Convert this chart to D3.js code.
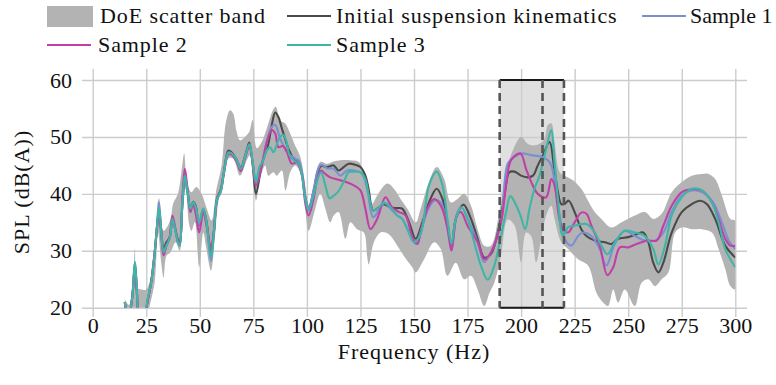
<!DOCTYPE html>
<html><head><meta charset="utf-8">
<script src="https://cdn.jsdelivr.net/npm/d3@7"></script>
<style>
html,body{margin:0;padding:0;background:#fff;}
</style></head>
<body><svg id="chart" width="776" height="385"></svg>
<script>
// ---------- data: [frequency (Hz), SPL (dB(A))] ----------
const xTicks = [0,25,50,75,100,125,150,175,200,225,250,275,300];
const yTicks = [20,30,40,50,60];
const highlightBand = [190,220];
const highlightSplit = 210;

const bandUpper = [[15,21.5],[17,20.5],[18.8,25],[19.7,30.3],[20.8,23.5],[22.7,23.2],[25,23.2],[27.3,25.6],[28.9,30.6],[30.5,38.8],[31,39.2],[32,35],[33.1,33.5],[34.4,34],[36.4,35.6],[37.5,38.2],[39.8,40],[41.4,43.8],[42.7,47.1],[44.1,41.8],[46.1,40.3],[48.4,41.2],[50.8,40],[53.1,37.6],[55.5,35.3],[57.8,40.9],[60.2,45],[62.2,52.6],[64.1,54.7],[65.6,54.1],[67.2,50.9],[68.75,49.4],[71.1,50],[73.1,50.9],[74.7,53],[76.6,48],[78.9,49.1],[81.25,51.5],[84.4,54.9],[85.5,55.3],[87.5,52.9],[89.8,52.4],[92.2,50.6],[94.5,48.5],[96.9,46.5],[99.2,41.5],[100.8,38],[103.1,41.5],[106.25,45.6],[109.4,45.3],[112.5,45.7],[115.6,45.9],[120.3,45.9],[124.2,45.6],[126.6,43.8],[128.9,41.5],[130.5,38.2],[132.8,39.7],[137.5,41.8],[140.6,40.9],[143.75,39.1],[146.9,37.4],[150.8,35],[153.1,37.4],[157,42.1],[160.6,44.7],[164.1,42.6],[167.2,38.5],[170.3,39.1],[173.4,40],[176.6,37.9],[179.7,33.8],[182.8,30.9],[185.9,30.9],[189.8,36.8],[193,43.8],[196.1,47.6],[200,50],[203.1,48.8],[205.5,48.5],[208.6,48.8],[210.9,49.7],[212.5,52.1],[214.1,52.4],[215.6,49.1],[218,43.8],[220.3,43.2],[224.2,42.4],[228.1,40.9],[231.25,38.8],[234.4,36.8],[237.5,35.6],[242.2,34.1],[246.9,35],[253.1,36.2],[257.8,36.8],[261.7,35.6],[265.6,36.5],[270.3,40.3],[275,42.1],[279.7,43.2],[284.4,43.5],[287.5,43.5],[290.6,42.6],[293.75,39.7],[297.7,35.6],[300,35.3]];

const bandLower = [[15,15],[19.7,19],[20.3,17],[25,17],[26.6,20.3],[28.9,24.4],[30.5,33.2],[32,27.9],[33.1,25.3],[34.4,29.1],[36.25,29.7],[38.75,31.5],[40.6,30],[42.2,37.4],[43.4,40.9],[45,34.7],[46.1,33.5],[47.7,35],[49.7,27.1],[51.6,33.2],[53.1,30.3],[55.2,26.5],[57,32.1],[58.6,38.5],[60.9,42.1],[63.3,46.2],[65.6,46.2],[68.75,43.2],[71.9,45.9],[73.4,46.8],[76.25,38.8],[78.1,42.6],[80.5,45],[82,43.2],[84.4,43.8],[85.9,43.2],[88.3,44.1],[90,40.6],[92.2,43.8],[94.5,45],[96.9,43.8],[99.2,37.4],[100.8,33.5],[103.9,37.4],[106.25,40],[108.6,37.4],[110.9,35],[112.5,36.2],[114.8,36.8],[118,32.1],[120.3,35],[123.4,33.8],[126.6,33.2],[128.1,29.1],[128.9,27.6],[131.25,31.5],[134.4,33.2],[136.7,33.2],[139.1,32.6],[142.2,30.9],[145.3,29.1],[149.2,27.1],[150.8,26.2],[154.7,28.5],[159.4,31.5],[162.5,30.3],[165.6,25.6],[169.5,27.9],[173.4,25],[176.6,25.6],[179.7,23.2],[182.8,20.3],[185.2,22.6],[187.5,24.4],[190.6,29.1],[193.75,35.5],[196.9,34.5],[200,28],[202.3,33.2],[204.7,32.6],[207,28],[209.4,32.1],[211.7,36.2],[214.1,37.9],[215.6,35.6],[218.75,31.5],[221.9,30.3],[226.6,28.5],[231.25,27.4],[235.2,22.6],[238.3,20.9],[240.6,20.3],[243,23.2],[245.3,20.9],[248.4,23.2],[253.1,20.3],[256.25,24.4],[259.4,25],[262.5,23.8],[265.6,25],[268.75,26.2],[271.9,33.2],[275,34.1],[279.7,33.8],[284.4,33.8],[289.1,33.2],[292.2,30.3],[295.3,26.8],[297.7,23.8],[300,23.2]];

const initialKinematics = [[15,21],[16.5,17.5],[18.5,22],[19.7,27.5],[20.5,23.5],[21.5,19],[23.5,17.5],[25.8,21.5],[27.3,24.6],[28.9,29.6],[30.5,36],[31,37.2],[32,33.5],[33.1,30.2],[34.4,31.5],[35.9,32.3],[37.2,35.3],[38.75,33.4],[39.8,31.9],[40.6,31.3],[41.9,38.3],[43,43],[44.1,41],[45.6,37.6],[46.9,38.6],[48.1,37.9],[49.7,34.5],[51.6,37.3],[53.1,35.2],[55.2,29.5],[56.6,33.5],[58.1,39.3],[59.7,40.6],[61.3,44],[63.3,47.6],[64.8,47.3],[67.2,46],[69.1,44.6],[71.4,47],[73.1,49],[74.7,45],[76.25,40],[79,45.3],[82,48.8],[83.6,52.1],[85.2,54.3],[86.7,53.5],[88.3,51.5],[89.8,49.7],[91.4,47.9],[93.75,46.2],[96.1,45.7],[97.7,43.5],[99.2,39.4],[100.8,37.4],[103.1,40.3],[105,43.8],[106.6,44.9],[109.4,44.7],[112.5,45],[114.8,44.1],[117.2,44.7],[119.5,45.3],[122.7,45.1],[125,44.7],[127.3,43.2],[128.9,40.6],[130.9,37.1],[133.6,37.6],[135.9,38.2],[139.1,37.6],[142.2,37.5],[144.5,37.4],[147.7,35],[150.8,32.1],[153.9,35],[157,38.5],[160.6,40.9],[163.3,39.1],[165.6,35],[167.5,30.6],[169.5,35.6],[173.1,38.1],[176.6,35.6],[179.7,32.1],[182.8,28.8],[185.9,29.4],[189.8,34.4],[192.2,39.7],[194.5,43.8],[196.9,43.9],[200,43.2],[203.1,42.9],[205.5,43.2],[207.8,45],[210.2,46.8],[213.3,49.1],[215.3,45],[217.2,40.3],[218.75,38.2],[220.3,38.2],[222.2,38.8],[225,36.8],[228.1,33.8],[230.5,32.6],[234.4,31.8],[239.1,31.5],[242.2,31.2],[245.3,32.1],[250,32.4],[253.9,32.9],[257,33.2],[259.4,31.5],[261.7,27.9],[264.1,26.2],[266.4,27.9],[270.3,33.2],[275,36.8],[279.7,38.2],[283.6,38.8],[286.7,38.2],[290.6,35.6],[295.3,30.9],[300,28.8]];

const sample1 = [[15,21],[16.5,17.5],[18.5,22],[19.7,28],[20.5,24],[21.5,19],[23.5,17.5],[25.8,21.8],[27.3,24.4],[28.9,29.4],[30.5,36.5],[31,38.5],[32,33.4],[33.1,29.8],[34.4,30.9],[35.9,32.1],[37.2,35.5],[38.75,33.2],[39.8,31.5],[40.6,30.9],[41.9,38.5],[43,43.5],[44.1,40.9],[45.6,37.4],[46.9,38.5],[48.1,37.6],[49.7,34.6],[51.6,37.4],[53.1,35],[55.2,28.2],[56.6,33.2],[58.1,39.2],[59.7,40.4],[61.3,43.9],[63.3,47.3],[64.8,47.1],[67.2,45.9],[69.1,44.4],[71.4,46.8],[73.1,48.7],[74.7,45.6],[76.25,41.5],[79,45.3],[81.25,49.1],[83.6,51.8],[85.2,52.1],[87.5,49.7],[89.1,48.5],[91.4,47.1],[94.5,46.2],[96.4,45.7],[98,43.2],[99.5,39.1],[100.8,37.4],[103.1,40.6],[105,44.1],[106.6,45.1],[109.4,44.5],[112.5,44.4],[115.6,43.2],[118.75,44.1],[121.9,44.1],[125.8,43.5],[128.1,40.9],[130.9,35.9],[133.6,37.1],[136.25,38.4],[139.1,37.4],[142.2,36.2],[144.5,35.6],[147.7,33.2],[150.8,31.2],[153.9,34.4],[157,37.6],[159.4,38.8],[162.5,38.5],[165.6,33.8],[167.5,30.3],[170.3,36.8],[172.2,37.6],[175.8,35],[179.7,31.5],[182.8,28],[185.9,29.7],[190.6,35],[193.75,45.3],[196.9,46.5],[200,47.1],[204.7,46.8],[209.4,46.5],[212.5,45.9],[214.1,45],[215.6,42.1],[218,36.2],[220.3,32.1],[223.4,30.9],[226.6,32.6],[228.9,33.2],[232.8,32.6],[236.7,30.3],[239.8,27.4],[243.75,31.2],[248.4,33.5],[253.1,32.6],[257.8,31.8],[262.5,31.8],[266.4,33.2],[270.3,36.8],[275,39.7],[279.7,40.6],[284.4,40.3],[289.1,38.8],[293.75,35],[296.9,31.8],[300,30.3]];

const sample2 = [[15,21],[16.5,17.5],[18.5,22],[19.7,27.5],[20.5,24],[21.5,19],[23.5,17.5],[25.8,21.5],[27.3,24.4],[28.9,29.6],[30.5,35.8],[31,37],[32,32.8],[33.1,29.2],[34.4,30.9],[35.9,32.4],[37.2,36.2],[38.75,33.6],[39.8,31.5],[40.6,31],[41.9,39.5],[43,44.4],[44.1,41.5],[45.6,36.8],[46.9,38.2],[48.1,36.5],[49.7,33.2],[51.6,36.8],[53.1,34.5],[55.2,30.5],[56.6,33.5],[58.1,39],[59.7,40.3],[61.3,43.6],[63.3,46.9],[64.8,46.9],[67.2,45.6],[69.1,44],[71.4,46.6],[73.1,48.4],[74.7,45.4],[76.25,41.5],[79,45],[81.25,49.1],[83.6,51.2],[85.2,50.6],[86.7,48.2],[88.75,48.4],[90.6,47.4],[93,45.3],[95.3,45.5],[97.7,43.2],[99.2,38.5],[100.8,36.2],[103.1,39.1],[105,42.9],[106.6,44.1],[108.6,43.5],[110.9,42.9],[115.6,42.4],[121.9,41.5],[125,40.6],[127.3,37.4],[129.7,33.8],[132.8,35.6],[136.7,39.4],[139.8,37.6],[143,36.8],[146.1,36.2],[149.2,32.4],[151.6,31.2],[153.1,33.2],[156.25,37.4],[159.4,39.1],[162.5,37.9],[165.6,34.1],[167.5,30],[170,36.2],[171.9,36.8],[175,34.4],[179.7,31.5],[182.8,28.5],[185.9,29.7],[190.6,35],[193,41.5],[195.3,45.9],[199.7,47.1],[202.3,44.4],[204.7,42.1],[207.8,40],[211.7,39.4],[214.1,42.6],[215.6,41.5],[218.75,34.4],[221.9,33.2],[225,35],[228.1,36.7],[230.5,36.5],[232.8,34.4],[236.7,30.9],[240.3,25.7],[243,27.1],[246.1,30.6],[250,30.6],[253.9,31.2],[259.4,31.8],[263.3,31.8],[266.4,34.4],[270.3,37.9],[275,40.3],[279.7,40.8],[284.4,40.6],[289.1,38.5],[292.2,35.6],[295.3,32.1],[297.7,30.9],[300,30.9]];

const sample3 = [[15,21],[16.5,17.5],[18.5,22],[19.7,28],[20.5,24],[21.5,19],[23.5,17.5],[25.8,21.8],[27.3,24.4],[28.9,29.4],[30.5,36.2],[31,37.6],[32,33.2],[33.1,29.7],[34.4,30.9],[35.9,32.1],[37.2,35.6],[38.75,33.2],[39.8,31.5],[40.6,30.9],[41.9,38.5],[43,43.2],[44.1,40.9],[45.6,37.4],[46.9,38.5],[48.1,37.6],[49.7,35],[51.6,37.4],[53.1,35],[55.2,28.8],[56.6,33.2],[58.1,39.1],[59.7,40.3],[61.3,43.8],[63.3,47.1],[64.8,47.1],[67.2,45.9],[69.1,44.4],[71.4,46.8],[73.1,48.7],[74.7,45.6],[76.25,42.1],[77.8,44.7],[79.7,45.9],[81.25,47.6],[82.8,48.2],[84.4,47.3],[86.7,49.4],[88.75,50.4],[90.3,49.4],[91.9,46.8],[93.75,45.9],[96.1,45.3],[97.7,43.2],[99.2,39.1],[100.8,37.1],[103.1,39.7],[105,42.6],[106.6,43.8],[108.6,41.5],[110.6,39.2],[112.5,39.7],[114.4,40.3],[117.2,42.1],[119.5,43.8],[121.9,43.9],[125,43.8],[127.3,42.6],[128.9,39.7],[130.9,37.1],[133.6,37.6],[135.9,38.5],[139.1,37.6],[142.2,36.2],[144.5,35.6],[146.9,33.8],[150,31.5],[153.1,32.9],[157,41.5],[160.6,43.9],[163.3,41.5],[165.6,35.6],[167.5,31.2],[169.5,35.6],[172.2,37.6],[175,35.6],[178.1,31.5],[181.25,27.4],[184.4,24.9],[187.5,27.4],[190.6,32.6],[193,36.8],[195,39.6],[197.7,38],[199.7,36.2],[201.9,33.8],[203.9,37.4],[206.25,40.9],[208.6,43.2],[211.7,47.9],[214.1,51.2],[215.6,45.6],[217.2,39.1],[219.5,32.6],[221.9,34.1],[225,34.4],[230.5,34.7],[234.4,33.2],[237.5,30.9],[240.3,29.4],[243.75,31.5],[248.4,33.5],[253.1,33.2],[257.8,32.6],[261.7,30.3],[264.1,27.6],[267.2,30.9],[270.3,36.2],[275,39.4],[279.7,40.9],[284.4,40.6],[289.1,38.5],[292.2,35],[295.3,30.3],[300,27.1]];

const seriesNames = ["Initial suspension kinematics","Sample 1","Sample 2","Sample 3"];
const seriesColors = ["#4a4a4a","#7b8fd3","#c13fa6","#3db6a6"];
const seriesData = [initialKinematics, sample1, sample2, sample3];

// ---------- drawing ----------
const FAMILY = "Liberation Serif, DejaVu Serif, serif";
const FONT = 22;
const svg = d3.select("#chart").attr("font-family", FAMILY);
const x = d3.scaleLinear().domain([0,300]).range([92.7,735.3]);
const y = d3.scaleLinear().domain([20,60]).range([307.7,80]);
const gridLeft = 82, gridRight = 747, gridTop = 69, gridBottom = 317;

svg.append("defs").append("clipPath").attr("id","plotclip")
  .append("rect").attr("x",x(0)).attr("y",y(60)-2).attr("width",x(300)-x(0)).attr("height",y(20)-y(60)+2);

// highlight box fill
svg.append("rect")
  .attr("x",x(highlightBand[0])).attr("y",y(60))
  .attr("width",x(highlightBand[1])-x(highlightBand[0])).attr("height",y(20)-y(60))
  .attr("fill","#e0e0e0");

// grid via axes
const xAxis = svg.append("g").attr("transform",`translate(0,${gridBottom})`)
  .call(d3.axisBottom(x).tickValues(xTicks).tickSize(-(gridBottom-gridTop)).tickPadding(0).tickFormat(d3.format("d")));
const yAxis = svg.append("g").attr("transform",`translate(${gridLeft},0)`)
  .call(d3.axisLeft(y).tickValues(yTicks).tickSize(-(gridRight-gridLeft)).tickPadding(10).tickFormat(d3.format("d")));
[xAxis,yAxis].forEach(a=>{
  a.attr("font-family", FAMILY).attr("font-size", FONT);
  a.select(".domain").remove();
  a.selectAll(".tick line").attr("stroke","#cccccc").attr("stroke-width",1.4);
  a.selectAll(".tick text").attr("fill","#111").attr("font-family", FAMILY).attr("font-size", FONT);
});

const plot = svg.append("g").attr("clip-path","url(#plotclip)");
const curve = d3.curveCatmullRom.alpha(0.5);
const lineGen = d3.line().x(d=>x(d[0])).y(d=>y(d[1])).curve(curve);

// scatter band polygon
const bandPts = bandUpper.concat(bandLower.slice().reverse());
plot.append("path").attr("d", lineGen(bandPts) + "Z").attr("fill","#b3b3b3").attr("stroke","none");

seriesData.forEach((s,i)=>{
  plot.append("path").attr("d",lineGen(s)).attr("fill","none")
    .attr("stroke",seriesColors[i]).attr("stroke-width",2.1).attr("stroke-linejoin","round");
});

// highlight box borders
[y(60),y(20)].forEach(yy=>{
  svg.append("line").attr("x1",x(highlightBand[0])).attr("x2",x(highlightBand[1]))
    .attr("y1",yy).attr("y2",yy).attr("stroke","#1a1a1a").attr("stroke-width",2);
});
[highlightBand[0],highlightSplit,highlightBand[1]].forEach(f=>{
  svg.append("line").attr("x1",x(f)).attr("x2",x(f)).attr("y1",y(60)).attr("y2",y(20))
    .attr("stroke","#555").attr("stroke-width",2.6).attr("stroke-dasharray","8,5");
});

// axis titles
svg.append("text").attr("x",(x(0)+x(300))/2).attr("y",359).attr("text-anchor","middle")
  .attr("font-family",FAMILY).attr("font-size",FONT).attr("letter-spacing","1").attr("fill","#111").text("Frequency (Hz)");
svg.append("text").attr("transform","translate(29,192) rotate(-90)").attr("text-anchor","middle")
  .attr("font-family",FAMILY).attr("font-size",FONT).attr("letter-spacing","1").attr("fill","#111").text("SPL (dB(A))");

// legend
const leg = svg.append("g").attr("font-family",FAMILY).attr("font-size",FONT);
leg.append("rect").attr("x",47).attr("y",6).attr("width",46).attr("height",21).attr("fill","#b3b3b3");
leg.append("text").attr("x",100).attr("y",23).attr("fill","#111").attr("letter-spacing","0.9").text("DoE scatter band");
const legItems = [
  {i:0, x:287, y:16, tx:336, ty:23, ls:0.9},
  {i:1, x:642, y:16, tx:690, ty:23, ls:0},
  {i:2, x:47,  y:45, tx:98,  ty:52, ls:0.9},
  {i:3, x:287, y:45, tx:336, ty:52, ls:0.9}
];
legItems.forEach(d=>{
  leg.append("line").attr("x1",d.x).attr("x2",d.x+44).attr("y1",d.y).attr("y2",d.y)
    .attr("stroke",seriesColors[d.i]).attr("stroke-width",2.1);
  leg.append("text").attr("x",d.tx).attr("y",d.ty).attr("fill","#111").attr("letter-spacing",d.ls).text(seriesNames[d.i]);
});
</script></body></html>
